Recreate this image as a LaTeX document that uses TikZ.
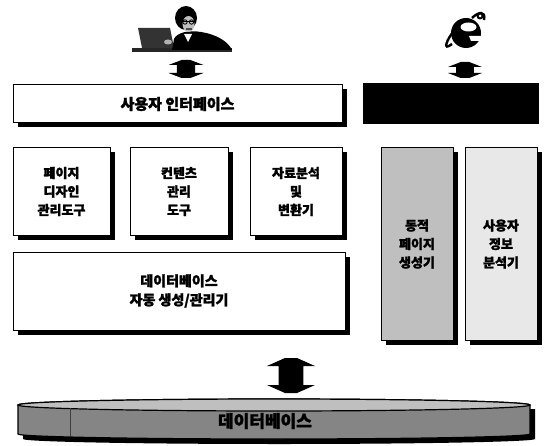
\documentclass[tikz,border=0pt]{standalone}
\usepackage{fontspec}
\setmainfont{Noto Sans CJK KR}[BoldFeatures={FakeBold=1.8}]
\usetikzlibrary{shadows,calc}

% double-headed block arrow between two named points (top, bottom)
\newcommand\blockarrow[4]{%
  \fill let \p1=(#1), \p2=(#2) in
    (\x1-0.25*#3,\y1) -- (\x1+0.25*#3,\y1) -- (\x1+#3,\y1-#4) --
    (\x1+0.52*#3,\y1-#4) -- (\x1+0.52*#3,\y2+#4) -- (\x1+#3,\y2+#4) --
    (\x1+0.25*#3,\y2) -- (\x1-0.25*#3,\y2) -- (\x1-#3,\y2+#4) --
    (\x1-0.52*#3,\y2+#4) -- (\x1-0.52*#3,\y1-#4) -- (\x1-#3,\y1-#4) -- cycle;}

\tikzset{
  panel/.style={draw=black, line width=1pt, inner sep=0pt, align=center,
    font=\bfseries\fontsize{13}{18.5}\selectfont,
    drop shadow={shadow xshift=4.5pt, shadow yshift=-4.5pt, fill=black, opacity=1}},
  whitepanel/.style={panel, fill=white},
}

\begin{document}
\begin{tikzpicture}[x=1pt,y=-1pt]
\useasboundingbox (0,0) rectangle (545,446);

% ---- user at a laptop ----
\fill[black!85] (132,48.5) rectangle (232,52);
\fill[black!80] (138,28) -- (170,28) -- (174,48) -- (142,48) -- cycle;
\fill[black] (172,50) -- (174,39) .. controls (177,32) and (190,30) .. (201,32)
  .. controls (215,34) and (228,41) .. (232,50) -- cycle;
\fill[black] (186,18) ellipse[x radius=11pt, y radius=12pt];
\fill[black!25] (188.5,24) ellipse[x radius=6pt, y radius=8pt];
\draw[black, line width=0.8pt] (181,21.5) -- (196,21.5);
\draw[black, line width=0.8pt] (185,22) circle[radius=2.2pt] (191.5,22) circle[radius=2.2pt];
\fill[black!70] (185.5,28.5) rectangle (191.5,29.8);
\fill[white] (184,34) -- (192,34) -- (188,42) -- cycle;
\fill[black!30] (168,42) ellipse[x radius=4pt, y radius=2.5pt];

% ---- browser logo ----
\fill[black] (466,33) circle[radius=15pt];
\fill[white] (468.5,27) ellipse[x radius=8pt, y radius=4.5pt];
\fill[white] (469,36) -- (482,36) -- (482,41) -- (471,41) -- cycle;
\draw[black, line width=2.4pt] (452,44) .. controls (442,52) and (446,40) .. (456,28);
\draw[black, line width=2.4pt] (472,18) .. controls (478,12) and (486,10) .. (484,20);
\fill[black] (480,16) circle[radius=3.5pt];
\fill[white] (480,16) circle[radius=1.5pt];

% ---- panels ----
\node[whitepanel, minimum width=329pt, minimum height=38pt,
  font=\bfseries\fontsize{15}{18}\selectfont] (ui) at (177.5,104) {사용자 인터페이스};
\node[draw=black, fill=black, line width=1pt, minimum width=175pt,
  minimum height=40pt] (web) at (450.5,104) {};

\node[whitepanel, minimum width=97pt, minimum height=87pt] (design) at (61.5,191.5)
  {페이지\\디자인\\관리도구};
\node[whitepanel, minimum width=98pt, minimum height=87pt] (content) at (179,191.5)
  {컨텐츠\\관리\\도구};
\node[whitepanel, minimum width=92pt, minimum height=87pt] (convert) at (296,191.5)
  {자료분석\\및\\변환기};
\node[whitepanel, minimum width=332pt, minimum height=78pt,
  font=\bfseries\fontsize{14}{19}\selectfont] (dbm) at (179,291)
  {데이터베이스\\자동 생성/관리기};

\node[panel, fill=black!25, minimum width=72pt, minimum height=192pt] (dyn) at (417,244)
  {동적\\페이지\\생성기};
\node[panel, fill=black!9, minimum width=72pt, minimum height=192pt] (uinfo) at (501,244)
  {사용자\\정보\\분석기};

% ---- database disc ----
\fill[black] (23,409) -- (23,439) arc[start angle=180, end angle=360, x radius=256pt, y radius=5pt]
  -- (535,409) -- cycle;
\filldraw[fill=black!48, draw=black, line width=1.2pt]
  (18,405) -- (18,434) arc[start angle=180, end angle=360, x radius=256pt, y radius=5pt]
  -- (530,405) arc[start angle=0, end angle=180, x radius=256pt, y radius=6pt] -- cycle;
\filldraw[fill=black!25, draw=black, line width=1.2pt]
  (274,405) ellipse[x radius=256pt, y radius=6pt];
\draw[black!75, line width=0.8pt] (70,408) -- (70,436);
\node[font=\bfseries\fontsize{17}{20}\selectfont, text=black] (db) at (265,421) {데이터베이스};

% ---- links ----
\coordinate (pa1) at (186,60);
\coordinate (pa2) at (186,78);
\coordinate (ea1) at (465,62);
\coordinate (ea2) at (465,78);
\coordinate (da1) at (291,358);
\coordinate (da2) at (291,393);
\blockarrow{pa1}{pa2}{17.5pt}{5pt}
\blockarrow{ea1}{ea2}{17pt}{5pt}
\blockarrow{da1}{da2}{24pt}{8pt}
\end{tikzpicture}
\end{document}
